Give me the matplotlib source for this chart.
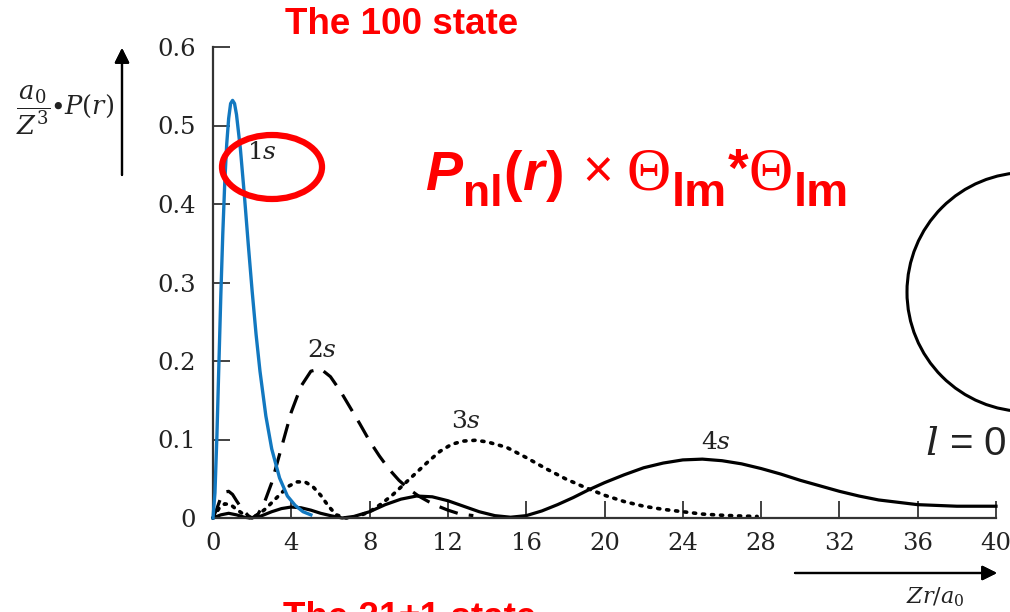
import matplotlib
matplotlib.use("Agg")
import matplotlib.pyplot as plt
from matplotlib.patches import Ellipse

# radial probability curves
r_1s = [0, 0.1, 0.2, 0.3, 0.4, 0.5, 0.6, 0.7, 0.8, 0.9, 1.0, 1.1, 1.2, 1.4, 1.6,
        1.8, 2.0, 2.2, 2.4, 2.7, 3.0, 3.4, 3.8, 4.2, 4.6, 5.0]
p_1s = [0, 0.032, 0.105, 0.195, 0.284, 0.362, 0.427, 0.476, 0.509, 0.528, 0.532,
        0.528, 0.514, 0.470, 0.412, 0.349, 0.289, 0.234, 0.187, 0.130, 0.088,
        0.051, 0.028, 0.016, 0.008, 0.004]

r_2s = [0, 0.2, 0.4, 0.6, 0.8, 1.0, 1.2, 1.5, 1.8, 2.0, 2.3, 2.6, 3.0, 3.5, 4.0,
        4.5, 5.0, 5.5, 6.0, 6.5, 7.0, 7.5, 8.0, 8.5, 9.0, 9.5, 10.0, 10.5, 11.0,
        11.5, 12.0, 12.5, 13.0, 13.3]
p_2s = [0, 0.012, 0.026, 0.033, 0.034, 0.030, 0.022, 0.011, 0.003, 0, 0.005,
        0.018, 0.045, 0.090, 0.135, 0.168, 0.187, 0.190, 0.180, 0.162, 0.141,
        0.120, 0.098, 0.079, 0.062, 0.048, 0.037, 0.028, 0.021, 0.015, 0.010,
        0.006, 0.004, 0.003]

r_3s = [0, 0.3, 0.6, 0.9, 1.2, 1.6, 1.9, 2.3, 2.7, 3.1, 3.5, 3.9, 4.3, 4.7, 5.1,
        5.5, 5.9, 6.3, 6.8, 7.4, 8.0, 8.6, 9.2, 9.8, 10.4, 11.0, 11.6, 12.2, 12.8,
        13.4, 14.0, 15.0, 16.0, 17.0, 18.0, 19.0, 20.0, 21.0, 22.0, 23.0, 24.0,
        25.0, 26.0, 27.0, 27.8]
p_3s = [0, 0.012, 0.018, 0.017, 0.011, 0.004, 0, 0.004, 0.012, 0.022, 0.032,
        0.041, 0.046, 0.046, 0.040, 0.029, 0.015, 0.004, 0, 0.002, 0.008, 0.018,
        0.030, 0.044, 0.058, 0.072, 0.085, 0.094, 0.098, 0.099, 0.097, 0.090,
        0.077, 0.063, 0.050, 0.039, 0.029, 0.021, 0.015, 0.011, 0.008, 0.005,
        0.0035, 0.0025, 0.002]

r_4s = [0, 0.4, 0.8, 1.2, 1.6, 1.9, 2.4, 3.0, 3.5, 4.0, 4.5, 5.0, 5.5, 6.0, 6.6,
        7.2, 8.0, 8.8, 9.6, 10.4, 11.2, 12.0, 12.8, 13.6, 14.4, 15.2, 16.0, 16.8,
        17.6, 18.4, 19.2, 20, 21, 22, 23, 24, 25, 26, 27, 28, 29, 30, 31, 32, 33,
        34, 35, 36, 37, 38, 39, 40]
p_4s = [0, 0.004, 0.006, 0.004, 0.001, 0, 0.002, 0.008, 0.012, 0.014, 0.013,
        0.010, 0.006, 0.003, 0, 0.002, 0.008, 0.017, 0.024, 0.028, 0.027, 0.022,
        0.015, 0.008, 0.003, 0.001, 0.003, 0.009, 0.017, 0.026, 0.036, 0.045,
        0.055, 0.064, 0.070, 0.074, 0.075, 0.073, 0.069, 0.063, 0.056, 0.048,
        0.041, 0.034, 0.028, 0.023, 0.020, 0.017, 0.016, 0.015, 0.015, 0.015]

x_ticks = [0, 4, 8, 12, 16, 20, 24, 28, 32, 36, 40]
y_ticks = [0, 0.1, 0.2, 0.3, 0.4, 0.5, 0.6]
y_tick_labels = ['0', '0.1', '0.2', '0.3', '0.4', '0.5', '0.6']

W, H = 1010, 612
fig = plt.figure(figsize=(W / 100, H / 100), dpi=100)
fig.patch.set_facecolor('white')
renderer = fig.canvas.get_renderer()


def fx(x):
    return x / W


def fy(y):
    return 1 - y / H


ax = fig.add_axes([fx(213), fy(518), (996 - 213) / W, (518 - 47) / H])
ax.set_xlim(0, 40)
ax.set_ylim(0, 0.6)

ax.plot(r_1s, p_1s, color='#1278c0', lw=2.4, clip_on=False, zorder=4)
ax.plot(r_2s, p_2s, color='black', lw=2.3, linestyle=(0, (6, 3.5)), clip_on=False)
ax.plot(r_3s, p_3s, color='black', lw=2.6, linestyle=(0, (0.6, 1.9)),
        dash_capstyle='round', clip_on=False)
ax.plot(r_4s, p_4s, color='black', lw=2.3, clip_on=False)

for side in ['top', 'right']:
    ax.spines[side].set_visible(False)
for side in ['left', 'bottom']:
    ax.spines[side].set_color('#333333')
    ax.spines[side].set_linewidth(1.6)

ax.set_xticks(x_ticks)
ax.set_yticks(y_ticks)
ax.set_yticklabels(y_tick_labels)
ax.tick_params(direction='in', length=12, width=1.3, color='#333333',
               labelsize=17.5, labelcolor='#222222')
ax.tick_params(axis='x', pad=10)
ax.tick_params(axis='y', pad=12)
for lab in ax.get_xticklabels() + ax.get_yticklabels():
    lab.set_family('DejaVu Serif')

# curve labels
lab_kw = dict(fontsize=18, math_fontfamily='dejavuserif', color='#222222',
              ha='center', va='center', transform=fig.transFigure)
fig.text(fx(262), fy(152), r'$1s$', **lab_kw)
fig.text(fx(322), fy(350), r'$2s$', **lab_kw)
fig.text(fx(466), fy(421), r'$3s$', **lab_kw)
fig.text(fx(716), fy(442), r'$4s$', **lab_kw)

# axis labels and arrows
fig.text(fx(65), fy(110), r'$\dfrac{a_0}{Z^3}{\bullet}P(r)$', fontsize=18.5,
         math_fontfamily='dejavuserif', ha='center', va='center', color='#222222')
fig.text(fx(935), fy(597), r'$Zr/a_0$', fontsize=16,
         math_fontfamily='dejavuserif', ha='center', va='center', color='#222222')
arrow = dict(arrowstyle='-|>', color='black', lw=1.6, mutation_scale=22,
             shrinkA=0, shrinkB=0)
fig.add_artist(plt.annotate('', xy=(fx(122), fy(48)), xytext=(fx(122), fy(175)),
                            xycoords='figure fraction', arrowprops=arrow))
fig.add_artist(plt.annotate('', xy=(fx(997), fy(573)), xytext=(fx(795), fy(573)),
                            xycoords='figure fraction', arrowprops=arrow))

# red annotations
red = '#ff0000'
fig.text(fx(285), fy(25), 'The 100 state', color=red, fontsize=26.5,
         family='Liberation Sans', weight='bold', va='center')
fig.text(fx(283), fy(628), 'The 21\u00b11 state', color=red, fontsize=26.5,
         family='Liberation Sans', weight='bold', va='baseline')

# formula built piece by piece: (text, size, family, weight, style, drop px, gap px)
sans = 'Liberation Sans'
serif = 'Liberation Serif'
formula = [
    ('P', 40, sans, 'bold', 'italic', 0, 1),
    ('nl', 32, sans, 'bold', 'normal', 16, 1),
    ('(', 40, sans, 'bold', 'normal', 0, 0),
    ('r', 40, sans, 'bold', 'italic', 0, 2),
    (')', 40, sans, 'bold', 'normal', 0, 18),
    ('\u00d7', 38, sans, 'normal', 'normal', -2, 14),
    ('\u0398', 44, serif, 'normal', 'normal', 0, 1),
    ('lm', 34, sans, 'bold', 'normal', 16, 1),
    ('*', 38, sans, 'bold', 'normal', -4, 0),
    ('\u0398', 44, serif, 'normal', 'normal', 0, 1),
    ('lm', 34, sans, 'bold', 'normal', 16, 0),
]
xpos = 425
for txt, size, fam, wt, st, drop, gap in formula:
    t = fig.text(fx(xpos), fy(190 + drop), txt, color=red, fontsize=size,
                 family=fam, weight=wt, style=st, va='baseline')
    bb = t.get_window_extent(renderer)
    xpos = bb.x1 + gap

fig.add_artist(Ellipse((fx(272), fy(167)), 100 / W, 64 / H, fill=False,
                       edgecolor=red, lw=4.5, transform=fig.transFigure))

# l = 0 orbital outline
fig.add_artist(Ellipse((fx(1026.5), fy(292)), 239 / W, 239 / H, fill=False,
                       edgecolor='black', lw=2.2, transform=fig.transFigure))
fig.text(fx(925), fy(455), r'$l$ = 0', fontsize=29, family='Liberation Sans',
         math_fontfamily='dejavuserif', va='baseline', color='#222222')

fig.savefig('out.png', dpi=100)
